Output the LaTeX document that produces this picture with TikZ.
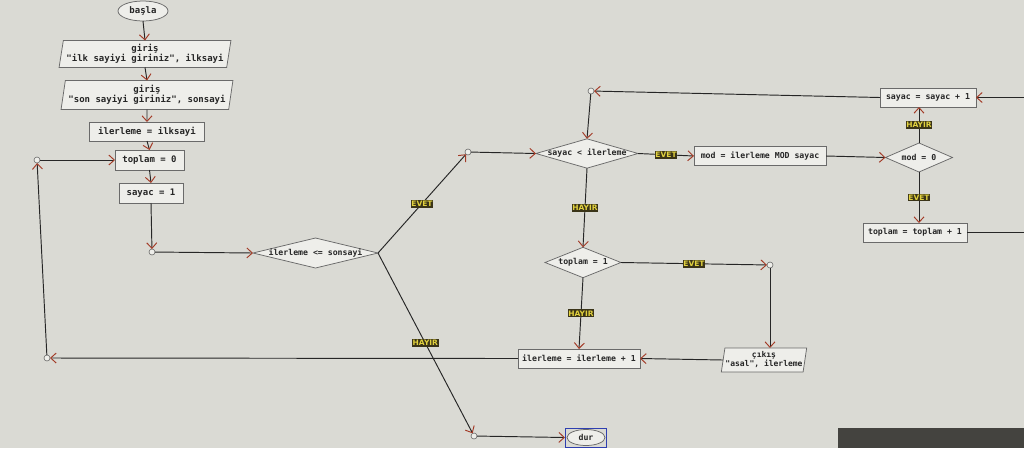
\documentclass[tikz,border=0pt]{standalone}
\usepackage{fontspec}
\setmonofont{DejaVu Sans Mono}
\newfontfamily\lblfont{DejaVu Sans}
\usetikzlibrary{shapes.geometric,arrows.meta,fit}
\definecolor{bgc}{HTML}{DADAD4}
\definecolor{nodefill}{HTML}{EEEEEA}
\definecolor{nodeline}{HTML}{6A6A6A}
\definecolor{linec}{HTML}{262626}
\definecolor{arrowc}{HTML}{A33B27}
\definecolor{txt}{HTML}{262626}
\definecolor{lblbg}{HTML}{3A3418}
\definecolor{lbltxt}{HTML}{E2D23E}
\definecolor{selblue}{HTML}{2F3FB0}
\definecolor{photodark}{HTML}{44433F}
\tikzset{
  fbase/.style={draw=nodeline, fill=nodefill, text=txt, line width=0.75pt,
    font=\ttfamily\bfseries\fontsize{8.2}{9.2}\selectfont, outer sep=0pt},
  proc/.style={fbase, rectangle, inner sep=1pt},
  term/.style={fbase, ellipse, inner sep=0pt},
  io/.style={fbase, trapezium, trapezium left angle=79, trapezium right angle=101,
    trapezium stretches=true, inner xsep=0pt, inner ysep=1pt, align=center},
  dec/.style={fbase, diamond, inner ysep=0pt},
  junc/.style={circle, draw=nodeline, fill=nodefill, minimum size=6pt, inner sep=0pt,
    line width=0.6pt, outer sep=0pt},
  conn/.style={draw=linec, line width=0.95pt,
    -{Straight Barb[length=5.5pt,width=10pt,color=arrowc]}},
  lbl/.style={fill=lblbg, text=lbltxt, font=\lblfont\bfseries\fontsize{7.5}{8}\selectfont,
    inner xsep=0.8pt, inner ysep=1.2pt},
  bigtxt/.style={font=\ttfamily\bfseries\fontsize{9}{10}\selectfont},
}
\begin{document}
\begin{tikzpicture}[x=1pt,y=-1pt]
\useasboundingbox (0,0) rectangle (1024,448);
\clip (0,0) rectangle (1024,448);
\fill[bgc] (0,0) rectangle (1024,448);
\fill[photodark] (838,428) rectangle (1024,448);
\coordinate (rx) at (1040,0);

% left column
\node[term, bigtxt, minimum width=50pt, minimum height=20pt] (basla) at (143,11) {başla};
\node[io, bigtxt, minimum width=172pt, minimum height=27pt] (g1) at (145,54) {giriş\\"ilk sayiyi giriniz", ilksayi};
\node[io, bigtxt, minimum width=172pt, minimum height=29pt] (g2) at (147,95) {giriş\\"son sayiyi giriniz", sonsayi};
\node[proc, bigtxt, minimum width=115pt, minimum height=19pt] (ilk) at (147,131.5) {ilerleme = ilksayi};
\node[proc, bigtxt, minimum width=69pt, minimum height=20pt] (top0) at (149.5,160) {toplam = 0};
\node[proc, bigtxt, minimum width=64pt, minimum height=20pt] (say1) at (151,193) {sayac = 1};
\node[junc] (j1) at (152,252) {};
\node[dec, inner xsep=-3pt, aspect=4.17, minimum width=125pt, minimum height=30pt] (d1) at (315.5,253) {ilerleme <= sonsayi};
\node[junc] (j2) at (468,152) {};
\node[junc] (j3) at (474,436) {};
\node[term, minimum width=38pt, minimum height=16pt] (dur) at (586,437.5) {dur};
\node[draw=selblue, line width=1pt, fit=(dur), inner sep=1.5pt] (sel) {};

% middle / right
\node[dec, inner xsep=-3pt, aspect=3.48, minimum width=101pt, minimum height=29pt] (d2) at (587,153.5) {sayac < ilerleme};
\node[proc, minimum width=132pt, minimum height=19pt] (modr) at (760,156) {mod = ilerleme MOD sayac};
\node[dec, aspect=2.3, minimum width=67pt, minimum height=29pt] (d3) at (919,157.5) {mod = 0};
\node[proc, minimum width=96pt, minimum height=19pt] (sayinc) at (928,97.5) {sayac = sayac + 1};
\node[proc, minimum width=104pt, minimum height=19pt] (topinc) at (915,232.5) {toplam = toplam + 1};
\node[junc] (j4) at (591,91) {};
\node[dec, aspect=2.5, minimum width=72pt, minimum height=29pt] (d4) at (583,262.5) {toplam = 1};
\node[junc] (j5) at (770,265) {};
\node[io, font=\ttfamily\bfseries\fontsize{8}{9}\selectfont, minimum width=86pt, minimum height=24pt] (out) at (764,360) {çıkış\\"asal", ilerleme};
\node[proc, minimum width=122pt, minimum height=19pt] (ilinc) at (579,358.5) {ilerleme = ilerleme + 1};
\node[junc] (j6) at (47,358) {};
\node[junc] (j7) at (37,160) {};

% connectors
\draw[conn] (basla.south) -- (g1.north);
\draw[conn] (g1.south) -- (g2.north);
\draw[conn] (g2.south) -- (ilk.north);
\draw[conn] (ilk.south) -- (top0.north);
\draw[conn] (top0.south) -- (say1.north);
\draw[conn] (say1.south) -- (j1);
\draw[conn] (j1) -- (d1.west);
\draw[conn] (d1.east) -- node[lbl]{EVET} (j2);
\draw[conn] (j2) -- (d2.west);
\draw[conn] (d1.east) -- node[lbl]{HAYIR} (j3);
\draw[conn] (j3) -- (sel.west);
\draw[conn] (d2.east) -- node[lbl]{EVET} (modr.west);
\draw[conn] (modr.east) -- (d3.west);
\draw[conn] (d3.north) -- node[lbl]{HAYIR} (d3.north |- sayinc.south);
\draw[conn] (d3.south) -- node[lbl]{EVET} (d3.south |- topinc.north);
\draw[conn] (topinc.east) -- (topinc.east -| rx) |- (sayinc.east);
\draw[conn] (sayinc.west) -- (j4);
\draw[conn] (j4) -- (d2.north);
\draw[conn] (d2.south) -- node[lbl]{HAYIR} (d4.north);
\draw[conn] (d4.east) -- node[lbl]{EVET} (j5);
\draw[conn] (j5) -- (j5 |- out.north);
\draw[conn] (d4.south) -- node[lbl]{HAYIR} (ilinc.north);
\draw[conn] (out.west) -- (ilinc.east);
\draw[conn] (ilinc.west) -- (j6);
\draw[conn] (j6) -- (j7);
\draw[conn] (j7) -- (top0.west);
\end{tikzpicture}
\end{document}
